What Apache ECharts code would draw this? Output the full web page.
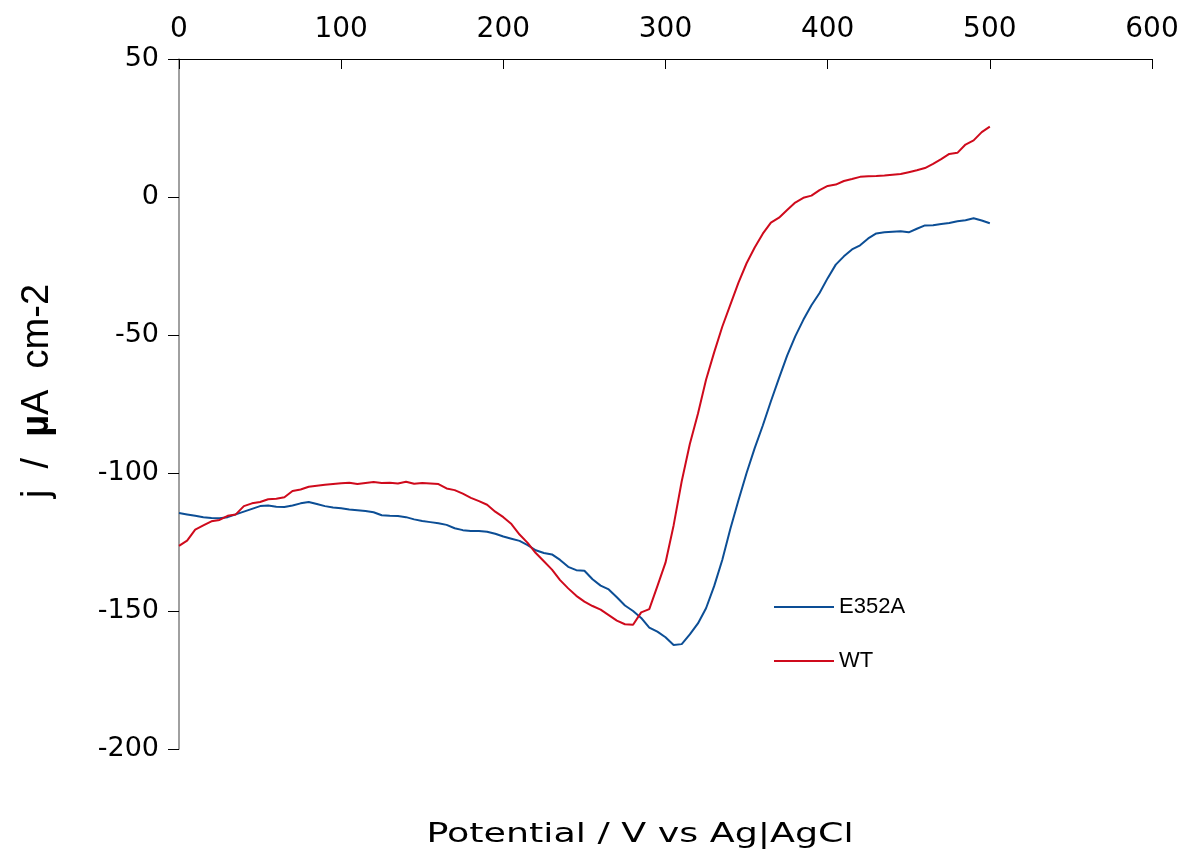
<!DOCTYPE html>
<html>
<head>
<meta charset="utf-8">
<script src="https://cdn.jsdelivr.net/npm/echarts@6/dist/echarts.min.js"></script>
<style>html,body{margin:0;padding:0;background:#fff}#chart{width:1182px;height:859px}</style>
</head>
<body>
<div id="chart"></div>
<script>
const potential = [0,5,10,15,20,25,30,35,40,45,50,55,60,65,70,75,80,85,90,95,100,105,110,115,120,125,130,135,140,145,150,155,160,165,170,175,180,185,190,195,200,205,210,215,220,225,230,235,240,245,250,255,260,265,270,275,280,285,290,295,300,305,310,315,320,325,330,335,340,345,350,355,360,365,370,375,380,385,390,395,400,405,410,415,420,425,430,435,440,445,450,455,460,465,470,475,480,485,490,495,500];
const e352a = [-114.5,-115,-115.5,-116,-116.3,-116.4,-116,-115,-114,-113,-112,-111.8,-112.2,-112.3,-111.8,-111,-110.5,-111.2,-112,-112.5,-112.8,-113.2,-113.5,-113.8,-114.2,-115.3,-115.5,-115.6,-116,-116.8,-117.4,-117.8,-118.2,-118.8,-120,-120.7,-121,-121,-121.3,-122,-123,-123.8,-124.6,-126.1,-128,-129,-129.5,-131.5,-134,-135.2,-135.4,-138.5,-140.8,-142.2,-145,-148,-150,-152.5,-156,-157.5,-159.5,-162.3,-162,-158.5,-154.5,-149,-141,-131.5,-120.2,-109.9,-100,-91,-82.8,-74,-65.6,-57.5,-50.5,-44.5,-39.2,-34.8,-29.4,-24.5,-21.5,-19,-17.5,-15,-13.2,-12.8,-12.6,-12.4,-12.8,-11.5,-10.3,-10.2,-9.8,-9.4,-8.8,-8.4,-7.7,-8.5,-9.5];
const wt = [-126.4,-124.5,-120.5,-119,-117.5,-117,-115.5,-115,-112,-111,-110.5,-109.5,-109.3,-108.8,-106.5,-106,-105,-104.6,-104.3,-104,-103.7,-103.5,-104,-103.6,-103.3,-103.6,-103.5,-103.8,-103.2,-103.9,-103.6,-103.8,-104,-105.6,-106.2,-107.5,-109,-110.2,-111.5,-114,-116,-118.5,-122.3,-125.3,-129,-132,-135,-138.8,-141.8,-144.5,-146.6,-148.2,-149.5,-151.5,-153.5,-154.8,-155,-150.5,-149.3,-141,-132.5,-119,-103,-89.5,-78.5,-66.2,-56.3,-47,-39,-31,-24,-18.3,-13.3,-9.3,-7.5,-4.7,-2,-0.3,0.5,2.5,4,4.5,5.8,6.5,7.3,7.5,7.6,7.8,8.1,8.3,9,9.7,10.5,12,13.7,15.6,16,19,20.5,23.5,25.5];
const seriesNames = ['E352A', 'WT'];
const xTitle = 'Potential / V vs Ag|AgCl';
const yTitleParts = ['j  /  ', 'µ', 'A  cm-2'];

const chart = echarts.init(document.getElementById('chart'), null, {renderer: 'canvas'});
const tickFont = 'DejaVu Sans';
chart.setOption({
  animation: false,
  backgroundColor: '#fff',
  grid: {left: 179, top: 59, right: 30, bottom: 110, containLabel: false},
  legend: {
    orient: 'vertical', left: 769, top: 591,
    itemWidth: 60, itemHeight: 2, itemGap: 32, icon: 'rect',
    textStyle: {fontFamily: 'Liberation Sans', fontSize: 22, color: '#000', lineHeight: 22},
    data: seriesNames
  },
  xAxis: {
    type: 'value', position: 'top', min: 0, max: 600, interval: 100,
    axisLine: {show: true, onZero: false, lineStyle: {color: '#000', width: 1}},
    axisTick: {show: true, inside: true, length: 10, lineStyle: {color: '#000'}},
    axisLabel: {margin: 15, fontFamily: tickFont, fontSize: 28, color: '#000'},
    splitLine: {show: false}
  },
  yAxis: {
    type: 'value', min: -200, max: 50, interval: 50,
    axisLine: {show: true, onZero: false, lineStyle: {color: '#808080', width: 1.5}},
    axisTick: {show: true, inside: false, length: 11, lineStyle: {color: '#000'}},
    axisLabel: {margin: 20, fontFamily: tickFont, fontSize: 27, color: '#000'},
    splitLine: {show: false}
  },
  graphic: [{
    type: 'text', x: 640, y: 835, scaleX: 1.4,
    style: {text: xTitle, fontFamily: tickFont, fontSize: 26, fill: '#000', align: 'center', verticalAlign: 'middle'}
  }, {
    type: 'text', x: 38, y: 391, rotation: Math.PI / 2,
    style: {
      text: '{a|' + yTitleParts[0] + '}{b|' + yTitleParts[1] + '}{a|' + yTitleParts[2] + '}',
      align: 'center', verticalAlign: 'middle',
      rich: {
        a: {fontFamily: 'Liberation Sans', fontSize: 38, fill: '#000'},
        b: {fontFamily: 'Liberation Sans', fontSize: 38, fontWeight: 'bold', fill: '#000'}
      }
    }
  }],
  series: [
    {name: seriesNames[0], type: 'line', showSymbol: false, data: potential.map((v, i) => [v, e352a[i]]),
     lineStyle: {color: '#0c4e95', width: 2}, itemStyle: {color: '#0c4e95'}},
    {name: seriesNames[1], type: 'line', showSymbol: false, data: potential.map((v, i) => [v, wt[i]]),
     lineStyle: {color: '#cf0a1c', width: 2}, itemStyle: {color: '#cf0a1c'}}
  ]
});
</script>
</body>
</html>
